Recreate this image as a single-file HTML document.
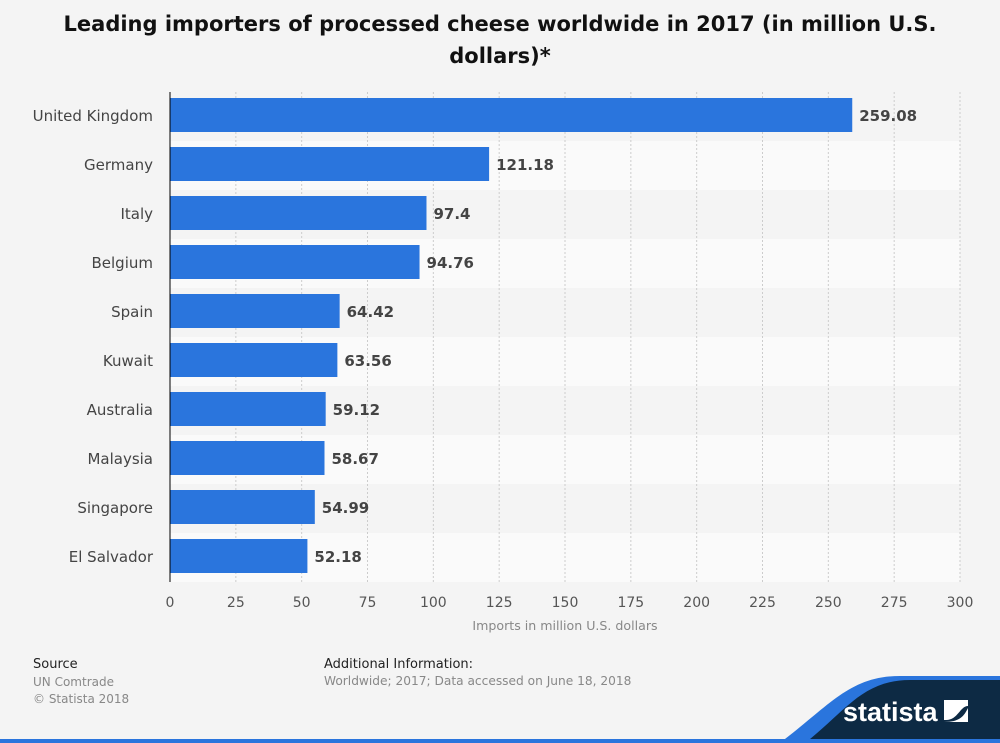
<!DOCTYPE html>
<html><head><meta charset="utf-8"><style>
body{margin:0;width:1000px;height:743px;background:#f4f4f4;font-family:"DejaVu Sans","Liberation Sans",sans-serif;overflow:hidden;position:relative}
.t{position:absolute}
</style></head><body>
<div class="t" style="left:0;width:1000px;top:8px;text-align:center;font-weight:bold;font-size:21px;line-height:32px;color:#111">Leading importers of processed cheese worldwide in 2017 (in million U.S.<br>dollars)*</div>
<svg id="chart" width="1000" height="650" style="position:absolute;left:0;top:0"></svg>
<div class="t" style="left:33px;top:657px;font-size:13px;color:#222">Source</div>
<div class="t" style="left:33px;top:674px;font-size:12px;color:#888;line-height:17px">UN Comtrade<br>© Statista 2018</div>
<div class="t" style="left:324px;top:657px;font-size:13px;color:#222">Additional Information:</div>
<div class="t" style="left:324px;top:674px;font-size:12.2px;color:#888">Worldwide; 2017; Data accessed on June 18, 2018</div>
<svg width="1000" height="743" style="position:absolute;left:0;top:0">
<path d="M780 743 C830 705 850 676 900 676 L1000 676 L1000 743 Z" fill="#2a75dd"/>
<path d="M805 743 C845 712 862 680 910 680 L1000 680 L1000 743 Z" fill="#0d2a44"/>
<rect x="0" y="739" width="1000" height="4" fill="#2a75dd"/>
<text x="843" y="721" fill="#fff" font-size="27" font-weight="bold" font-family="Liberation Sans, sans-serif">statista</text>
<path d="M944 700 h24 v6 c-8 0 -10 14 -22 14 h-2 z M944 722 h24 v-14 c-4 8 -8 14 -24 14z" fill="#fff"/>
</svg>
<script>
const categories=["United Kingdom","Germany","Italy","Belgium","Spain","Kuwait","Australia","Malaysia","Singapore","El Salvador"];
const values=[259.08,121.18,97.4,94.76,64.42,63.56,59.12,58.67,54.99,52.18];
const ticks=[0,25,50,75,100,125,150,175,200,225,250,275,300];
const svg=document.getElementById('chart');const NS='http://www.w3.org/2000/svg';
const x0=170,x1=960,top0=92,rowH=49,maxV=300;
const X=v=>x0+(x1-x0)*v/maxV;
function mk(t,a,p){const e=document.createElementNS(NS,t);for(const k in a)e.setAttribute(k,a[k]);(p||svg).appendChild(e);return e;}
categories.forEach((c,i)=>{
 const b=mk('rect',{x:x0,y:top0+i*rowH,width:x1-x0,height:rowH,fill:i%2?'#fafafa':'#f4f4f4'});
 
 
});
ticks.forEach(t=>{
 if(t>0){const g=mk('line',{x1:X(t),x2:X(t),y1:top0,y2:top0+rowH*categories.length,stroke:'#ccc','stroke-dasharray':'2,2'});
 
 }
 const l=mk('text',{x:X(t),y:607,'text-anchor':'middle','font-size':14,fill:'#555'});l.textContent=t;
 
 
});
categories.forEach((c,i)=>{
 const y=top0+i*rowH;
 const r=mk('rect',{x:x0,y:y+6,width:X(values[i])-x0,height:34,fill:'#2a75dd'});
 
 
 const l=mk('text',{x:153,y:y+29,'text-anchor':'end','font-size':15,fill:'#444'});l.textContent=c;
 
 
 const v=mk('text',{x:X(values[i])+7,y:y+29,'font-size':15,'font-weight':'bold',fill:'#444'});v.textContent=values[i];
 
 
});
const ax=mk('line',{x1:x0,x2:x0,y1:top0,y2:top0+rowH*categories.length,stroke:'#000','stroke-width':1});


const at=mk('text',{x:565,y:630,'text-anchor':'middle','font-size':12.6,fill:'#888'});at.textContent='Imports in million U.S. dollars';


</script>
</body></html>
